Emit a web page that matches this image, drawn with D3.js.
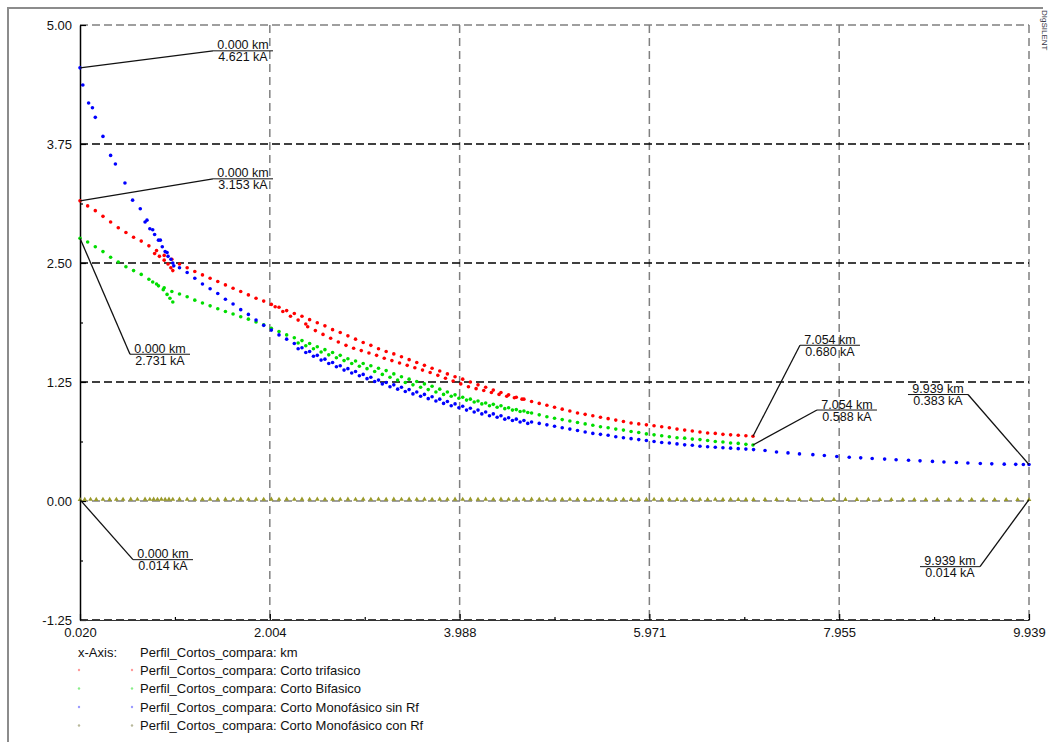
<!DOCTYPE html>
<html>
<head>
<meta charset="utf-8">
<script src="https://cdn.jsdelivr.net/npm/d3@7"></script>
<style>
  body { margin: 0; background: #fff; }
  svg { display: block; font-family: "Liberation Sans", Arial, sans-serif; }
</style>
</head>
<body>
<svg></svg>
<script>
const size = {w: 1049, h: 742};
const plot = {l: 80, r: 1029, t: 25, b: 620};

// axis ticks (km / kA)
const xTicks = [0.020, 2.004, 3.988, 5.971, 7.955, 9.939];
const yTicks = [-1.25, 0.00, 1.25, 2.50, 3.75, 5.00];

// Perfil_Cortos_compara: Corto trifasico  [km, kA]
const trifasico = [
  [0.020,3.153],[0.10,3.10],[0.18,3.05],[0.26,2.99],[0.34,2.93],[0.42,2.87],[0.50,2.82],[0.58,2.77],
  [0.66,2.73],[0.74,2.68],[0.82,2.63],[0.90,2.58],[0.98,2.54],[1.06,2.49],[1.14,2.45],[1.22,2.41],
  [1.30,2.375],[1.38,2.34],[1.46,2.305],[1.54,2.27],[1.62,2.235],[1.70,2.20],[1.78,2.165],[1.86,2.13],
  [1.94,2.10],[2.02,2.065],[2.10,2.035],[2.18,2.00],[2.26,1.97],[2.34,1.94],[2.42,1.905],[2.50,1.873],
  [2.58,1.84],[2.66,1.80],[2.74,1.77],[2.82,1.735],[2.90,1.70],[2.98,1.665],[3.06,1.635],[3.14,1.60],
  [3.22,1.57],[3.30,1.545],[3.38,1.515],[3.46,1.485],[3.54,1.455],[3.62,1.425],[3.70,1.395],[3.78,1.365],
  [3.86,1.335],[3.94,1.305],[4.02,1.28],[4.10,1.25],[4.18,1.22],[4.26,1.195],[4.34,1.165],[4.42,1.14],
  [4.50,1.115],[4.58,1.09],[4.66,1.07],[4.74,1.045],[4.82,1.025],[4.90,1.005],[4.98,0.985],[5.06,0.965],
  [5.14,0.945],[5.22,0.925],[5.30,0.91],[5.38,0.895],[5.46,0.88],[5.54,0.865],[5.62,0.85],[5.70,0.835],
  [5.78,0.82],[5.86,0.81],[5.94,0.80],[6.02,0.79],[6.10,0.78],[6.18,0.77],[6.26,0.755],[6.34,0.745],
  [6.42,0.735],[6.50,0.725],[6.58,0.715],[6.66,0.71],[6.74,0.70],[6.82,0.695],[6.90,0.69],[6.98,0.685],
  [7.054,0.680],
  [0.80,2.60],[0.85,2.57],[0.90,2.53],[0.94,2.49],[0.97,2.45],[0.99,2.42],
  [2.06,2.04],[2.14,1.99],[2.22,1.94],[2.30,1.90],[2.38,1.86],
  [2.40,1.83],[2.48,1.79],[2.56,1.75],[2.64,1.71],[2.72,1.67],[2.80,1.635],[2.88,1.605],[2.96,1.58],
  [3.04,1.555],[3.12,1.53],[3.20,1.50],[3.28,1.475],[3.36,1.45],[3.44,1.425],[3.52,1.40],[3.60,1.375],
  [3.68,1.35],[3.76,1.32],[3.84,1.29],[3.92,1.26],[4.00,1.23],[4.08,1.20],[4.16,1.18],[4.24,1.16],
  [4.32,1.14],[4.40,1.12],[4.48,1.10],[4.56,1.085],[4.64,1.07]
];

// Perfil_Cortos_compara: Corto Bifasico
const bifasico = [
  [0.020,2.76],[0.10,2.72],[0.18,2.67],[0.26,2.62],[0.34,2.56],[0.42,2.51],[0.50,2.46],[0.58,2.42],
  [0.66,2.38],[0.74,2.33],[0.82,2.28],[0.90,2.24],[0.98,2.20],[1.06,2.175],[1.14,2.145],[1.22,2.11],
  [1.30,2.08],[1.38,2.05],[1.46,2.02],[1.54,1.99],[1.62,1.965],[1.70,1.935],[1.78,1.91],[1.86,1.88],
  [1.94,1.85],[2.02,1.815],[2.10,1.78],[2.18,1.745],[2.26,1.715],[2.34,1.685],[2.42,1.655],[2.50,1.62],
  [2.58,1.59],[2.66,1.56],[2.74,1.53],[2.82,1.495],[2.90,1.47],[2.98,1.445],[3.06,1.42],[3.14,1.395],
  [3.22,1.37],[3.30,1.335],[3.38,1.305],[3.46,1.28],[3.54,1.255],[3.62,1.23],[3.70,1.205],[3.78,1.175],
  [3.86,1.145],[3.94,1.115],[4.02,1.09],[4.10,1.07],[4.18,1.05],[4.26,1.03],[4.34,1.015],[4.42,1.00],
  [4.50,0.98],[4.58,0.96],[4.66,0.945],[4.74,0.925],[4.82,0.905],[4.90,0.885],[4.98,0.87],[5.06,0.855],
  [5.14,0.84],[5.22,0.825],[5.30,0.81],[5.38,0.795],[5.46,0.78],[5.54,0.77],[5.62,0.755],[5.70,0.745],
  [5.78,0.73],[5.86,0.72],[5.94,0.705],[6.02,0.695],[6.10,0.685],[6.18,0.675],[6.26,0.665],[6.34,0.66],
  [6.42,0.65],[6.50,0.645],[6.58,0.635],[6.66,0.625],[6.74,0.62],[6.82,0.61],[6.90,0.605],[6.98,0.595],
  [7.054,0.588],
  [0.78,2.30],[0.84,2.26],[0.89,2.22],[0.93,2.17],[0.96,2.13],[0.99,2.09],
  [2.30,1.66],[2.38,1.63],[2.46,1.60],[2.54,1.565],[2.62,1.535],[2.70,1.505],[2.78,1.475],[2.86,1.445],
  [2.94,1.415],[3.02,1.39],[3.10,1.36],[3.18,1.33],[3.26,1.30],[3.34,1.27],[3.42,1.245],[3.50,1.22],
  [3.58,1.195],[3.66,1.17],[3.74,1.145],[3.82,1.12],[3.90,1.10],[3.98,1.08],[4.06,1.06],[4.14,1.04],
  [4.22,1.02],[4.30,1.00],[4.38,0.985],[4.46,0.97],[4.54,0.955],[4.62,0.94],[4.70,0.93]
];

// Perfil_Cortos_compara: Corto Monofásico sin Rf
const monoSinRf = [
  [0.020,4.55],[0.05,4.37],[0.11,4.18],[0.15,4.13],[0.18,4.03],[0.26,3.83],[0.34,3.63],[0.39,3.54],
  [0.49,3.34],[0.57,3.16],[0.65,3.07],[0.72,2.95],[0.78,2.85],[0.86,2.74],[0.93,2.61],[0.99,2.50],
  [0.70,2.93],[0.75,2.86],[0.80,2.80],[0.84,2.74],[0.88,2.67],[0.91,2.62],[0.94,2.57],[0.97,2.54],[1.00,2.47],
  [1.06,2.45],[1.14,2.40],[1.22,2.34],[1.30,2.28],[1.38,2.23],[1.46,2.18],[1.54,2.12],[1.62,2.07],
  [1.70,2.01],[1.78,1.96],[1.86,1.90],[1.94,1.845],[2.02,1.795],[2.10,1.745],[2.18,1.70],[2.26,1.655],
  [2.34,1.61],[2.42,1.57],[2.50,1.53],[2.58,1.49],[2.66,1.455],[2.74,1.42],[2.82,1.39],[2.90,1.36],
  [2.98,1.33],[3.06,1.30],[3.14,1.27],[3.22,1.245],[3.30,1.22],[3.38,1.195],[3.46,1.17],[3.54,1.145],
  [3.62,1.12],[3.70,1.095],[3.78,1.07],[3.86,1.045],[3.94,1.02],[4.02,0.995],[4.10,0.975],[4.18,0.955],
  [4.26,0.935],[4.34,0.915],[4.42,0.895],[4.50,0.875],[4.58,0.86],[4.66,0.845],[4.74,0.83],[4.82,0.815],
  [4.90,0.80],[4.98,0.785],[5.06,0.77],[5.14,0.755],[5.22,0.74],[5.30,0.725],[5.38,0.71],[5.46,0.70],
  [5.54,0.69],[5.62,0.675],[5.70,0.665],[5.78,0.655],[5.86,0.645],[5.94,0.635],[6.02,0.625],[6.10,0.615],
  [6.18,0.61],[6.26,0.60],[6.34,0.59],[6.42,0.585],[6.50,0.575],[6.58,0.57],[6.66,0.565],[6.74,0.56],
  [6.82,0.555],[6.90,0.55],[6.98,0.545],[7.06,0.54],[7.18,0.53],[7.30,0.515],[7.42,0.505],[7.54,0.495],
  [7.68,0.487],[7.80,0.478],[7.93,0.468],[8.06,0.46],[8.18,0.453],[8.30,0.447],[8.43,0.44],[8.55,0.434],
  [8.68,0.428],[8.80,0.422],[8.93,0.416],[9.05,0.41],[9.18,0.404],[9.30,0.399],[9.43,0.394],[9.55,0.39],
  [9.68,0.387],[9.80,0.385],[9.88,0.384],[9.939,0.383],
  [2.30,1.60],[2.38,1.56],[2.46,1.52],[2.54,1.48],[2.62,1.445],[2.70,1.41],[2.78,1.375],[2.86,1.345],
  [2.94,1.315],[3.02,1.285],[3.10,1.255],[3.18,1.23],[3.26,1.20],[3.34,1.175],[3.42,1.15],[3.50,1.125],
  [3.58,1.10],[3.66,1.075],[3.74,1.05],[3.82,1.025],[3.90,1.00],[3.98,0.98],[4.06,0.955],[4.14,0.935],
  [4.22,0.915],[4.30,0.895],[4.38,0.88],[4.46,0.86],[4.54,0.845],[4.62,0.83],[4.70,0.815]
];

// Perfil_Cortos_compara: Corto Monofásico con Rf
const monoConRf = [
  [0.020,0.014],[0.07,0.015],[0.13,0.016],[0.19,0.015],[0.26,0.016],[0.33,0.015],[0.40,0.016],[0.47,0.016],
  [0.55,0.017],[0.62,0.016],[0.70,0.017],[0.75,0.016],[0.79,0.017],[0.83,0.016],[0.87,0.017],[0.91,0.016],
  [0.95,0.017],[0.99,0.016],[1.06,0.017],[1.14,0.016],[1.22,0.017],[1.30,0.016],[1.38,0.017],[1.46,0.016],
  [1.54,0.017],[1.62,0.016],[1.70,0.017],[1.78,0.016],[1.86,0.017],[1.94,0.016],[2.02,0.017],[2.10,0.016],
  [2.18,0.017],[2.26,0.016],[2.34,0.017],[2.42,0.016],[2.50,0.017],[2.58,0.016],[2.66,0.017],[2.74,0.016],
  [2.82,0.017],[2.90,0.016],[2.98,0.017],[3.06,0.016],[3.14,0.017],[3.22,0.016],[3.30,0.017],[3.38,0.016],
  [3.46,0.017],[3.54,0.016],[3.62,0.017],[3.70,0.016],[3.78,0.017],[3.86,0.016],[3.94,0.017],[4.02,0.016],
  [4.10,0.017],[4.18,0.016],[4.26,0.017],[4.34,0.016],[4.42,0.017],[4.50,0.016],[4.58,0.017],[4.66,0.016],
  [4.74,0.017],[4.82,0.016],[4.90,0.016],[4.98,0.016],[5.06,0.016],[5.14,0.016],[5.22,0.016],[5.30,0.015],
  [5.38,0.016],[5.46,0.015],[5.54,0.016],[5.62,0.015],[5.70,0.016],[5.78,0.015],[5.86,0.016],[5.94,0.015],
  [6.02,0.016],[6.10,0.015],[6.18,0.016],[6.26,0.015],[6.34,0.016],[6.42,0.015],[6.50,0.016],[6.58,0.015],
  [6.66,0.016],[6.74,0.015],[6.82,0.016],[6.90,0.015],[6.98,0.015],[7.06,0.015],[7.18,0.015],[7.30,0.015],
  [7.42,0.015],[7.54,0.015],[7.66,0.015],[7.78,0.015],[7.90,0.015],[8.02,0.015],[8.14,0.015],[8.26,0.015],
  [8.38,0.014],[8.50,0.014],[8.62,0.014],[8.74,0.014],[8.86,0.014],[8.98,0.014],[9.10,0.014],[9.22,0.014],
  [9.34,0.014],[9.46,0.014],[9.58,0.014],[9.70,0.014],[9.82,0.014],[9.939,0.014]
];

const seriesNames = [
  'Perfil_Cortos_compara: Corto trifasico',
  'Perfil_Cortos_compara: Corto Bifasico',
  'Perfil_Cortos_compara: Corto Monofásico sin Rf',
  'Perfil_Cortos_compara: Corto Monofásico con Rf'
];
const xAxisName = 'Perfil_Cortos_compara: km';

// value boxes shown on the plot: which series, first or last point, text
const callouts = [
  {s: 2, at: 'first', lines: ['0.000 km', '4.621 kA']},
  {s: 0, at: 'first', lines: ['0.000 km', '3.153 kA']},
  {s: 1, at: 'first', lines: ['0.000 km', '2.731 kA']},
  {s: 3, at: 'first', lines: ['0.000 km', '0.014 kA']},
  {s: 0, at: 'last', lines: ['7.054 km', '0.680 kA']},
  {s: 1, at: 'last', lines: ['7.054 km', '0.588 kA']},
  {s: 2, at: 'last', lines: ['9.939 km', '0.383 kA']},
  {s: 3, at: 'last', lines: ['9.939 km', '0.014 kA']}
];
// where each box sits relative to its point (px)
const calloutOffsets = [[133,-17],[133,-22],[50,116],[53,60],[47,-91],[64,-35],[-61,-70],[-49,67]];

const allSeries = [trifasico, bifasico, monoSinRf, monoConRf];
const colors = ['#ff0000', '#00dd00', '#0000ff', '#9a9a2a'];
const legendColors = ['#ff9a9a', '#8aee8a', '#9a9aff', '#b8b89a'];

const svg = d3.select('svg')
    .attr('width', size.w)
    .attr('height', size.h);

svg.append('rect').attr('width', size.w).attr('height', size.h).attr('fill', '#fff');

// outer frame
svg.append('path')
    .attr('d', 'M8,742V8H1043')
    .attr('fill', 'none')
    .attr('stroke', '#8c8c8c')
    .attr('stroke-width', 2);

// little vertical stamp top right
svg.append('text')
    .attr('transform', 'translate(1042,10) rotate(90)')
    .attr('font-size', 8)
    .attr('fill', '#334')
    .text('DIgSILENT');

let x = d3.scaleLinear()
    .domain([xTicks[0], xTicks[xTicks.length - 1]])
    .range([plot.l, plot.r]);

let y = d3.scaleLinear()
    .domain([yTicks[0], yTicks[yTicks.length - 1]])
    .range([plot.b, plot.t]);

let mid = arr => arr.slice(1).map((d, i) => (d + arr[i]) / 2);

// grid
let gridG = svg.append('g').classed('grid', true);
gridG.selectAll('line.v')
    .data(xTicks.slice(1))
    .enter()
    .append('line')
    .attr('x1', d => x(d)).attr('x2', d => x(d))
    .attr('y1', plot.t).attr('y2', plot.b)
    .attr('stroke', '#808080')
    .attr('stroke-width', 1.5)
    .attr('stroke-dasharray', '8,5');

gridG.selectAll('line.h')
    .data(yTicks)
    .enter()
    .append('line')
    .attr('x1', plot.l).attr('x2', plot.r)
    .attr('y1', d => y(d)).attr('y2', d => y(d))
    .attr('stroke', d => (d === 5 || d === 0) ? '#808080' : '#000')
    .attr('stroke-width', 1.5)
    .attr('stroke-dasharray', '8,4');

// axes
let yAxis = d3.axisLeft(y)
    .tickValues(yTicks)
    .tickFormat(d => d.toFixed(2))
    .tickSizeInner(-6)
    .tickSizeOuter(0)
    .tickPadding(8);

let yAxisG = svg.append('g')
    .attr('transform', `translate(${plot.l},0)`)
    .call(yAxis);

svg.append('g')
    .attr('transform', `translate(${plot.l},0)`)
    .call(d3.axisLeft(y).tickValues(mid(yTicks)).tickFormat('').tickSizeInner(-3).tickSizeOuter(0))
    .select('.domain').remove();

let xAxis = d3.axisBottom(x)
    .tickValues(xTicks)
    .tickFormat(d => d.toFixed(3))
    .tickSizeInner(-6)
    .tickSizeOuter(0)
    .tickPadding(8);

let xAxisG = svg.append('g')
    .attr('transform', `translate(0,${plot.b})`)
    .call(xAxis);

svg.append('g')
    .attr('transform', `translate(0,${plot.b})`)
    .call(d3.axisBottom(x).tickValues(mid(xTicks)).tickFormat('').tickSizeInner(-3).tickSizeOuter(0))
    .select('.domain').remove();

svg.selectAll('.tick line').attr('stroke', '#000').attr('stroke-width', 1.2);
yAxisG.select('.domain').attr('stroke', '#000').attr('stroke-width', 1.5);
xAxisG.select('.domain').attr('stroke', '#333').attr('stroke-width', 1);
svg.selectAll('.tick text')
    .attr('font-family', '"Liberation Sans", Arial, sans-serif')
    .attr('font-size', 13)
    .attr('fill', '#111');

// points
let pointsG = svg.append('g').classed('points', true);
allSeries.slice(0, 3).forEach((data, i) => {
    pointsG.append('g')
        .selectAll('circle')
        .data(data)
        .enter()
        .append('circle')
        .attr('cx', d => x(d[0]))
        .attr('cy', d => y(d[1]))
        .attr('r', 1.8)
        .attr('fill', colors[i]);
});

let tri = d3.symbol().type(d3.symbolTriangle).size(10);
pointsG.append('g')
    .selectAll('path')
    .data(monoConRf)
    .enter()
    .append('path')
    .attr('d', tri)
    .attr('transform', d => `translate(${x(d[0])},${y(d[1])})`)
    .attr('fill', colors[3]);

// value boxes
let calloutG = svg.append('g').classed('callouts', true);
callouts.forEach((c, i) => {
    let data = allSeries[c.s];
    let p = c.at === 'first' ? data[0] : d3.greatest(data, d => d[0]);
    let px = x(p[0]), py = y(p[1]);
    let ex = px + calloutOffsets[i][0], ey = py + calloutOffsets[i][1];
    let w = 60;
    let x0 = calloutOffsets[i][0] > 0 ? ex : ex - w;

    calloutG.append('path')
        .attr('d', `M${px},${py}L${ex},${ey}`)
        .attr('stroke', '#111')
        .attr('stroke-width', 1.3)
        .attr('fill', 'none');
    calloutG.append('line')
        .attr('x1', x0).attr('x2', x0 + w)
        .attr('y1', ey).attr('y2', ey)
        .attr('stroke', '#111')
        .attr('stroke-width', 1);
    calloutG.selectAll(null)
        .data(c.lines)
        .enter()
        .append('text')
        .attr('x', x0 + w / 2)
        .attr('y', (d, j) => j === 0 ? ey - 1.5 : ey + 10.5)
        .attr('text-anchor', 'middle')
        .attr('font-size', 12.5)
        .attr('fill', '#111')
        .text(d => d);
});

// legend
let legendG = svg.append('g').classed('legend', true);
legendG.append('text')
    .attr('x', 78).attr('y', 657)
    .attr('font-size', 13).attr('fill', '#111')
    .text('x-Axis:');
legendG.append('text')
    .attr('x', 140).attr('y', 657)
    .attr('font-size', 13).attr('fill', '#111')
    .text(xAxisName);

let rowY = [670, 688.5, 707, 725.5];
let rows = legendG.selectAll('g.row')
    .data(seriesNames)
    .enter()
    .append('g')
    .attr('transform', (d, i) => `translate(0,${rowY[i]})`);

rows.append('circle').attr('cx', 79).attr('cy', 0).attr('r', 1.2).attr('fill', (d, i) => legendColors[i]);
rows.append('circle').attr('cx', 132).attr('cy', 0).attr('r', 1.2).attr('fill', (d, i) => legendColors[i]);
rows.append('text')
    .attr('x', 140).attr('y', 4.5)
    .attr('font-size', 13).attr('fill', '#111')
    .text(d => d);
</script>
</body>
</html>
